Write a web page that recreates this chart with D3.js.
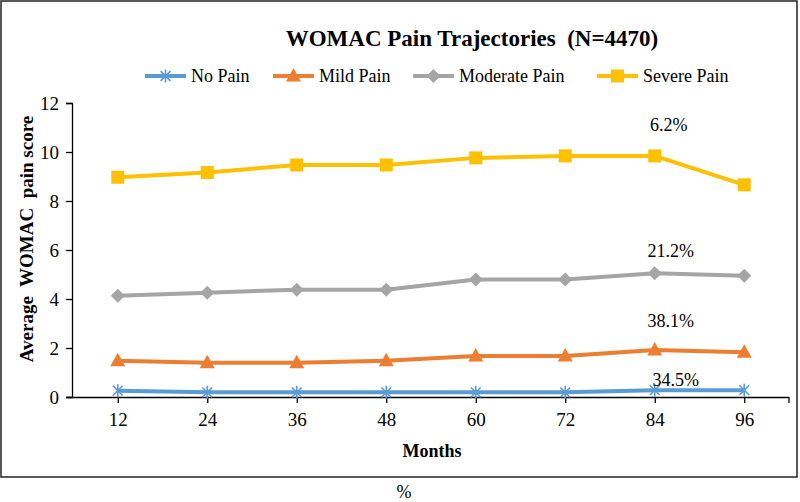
<!DOCTYPE html>
<html><head><meta charset="utf-8">
<script src="https://cdn.jsdelivr.net/npm/d3@7"></script>
<style>body{margin:0;background:#fff}svg{display:block}</style>
</head><body>
<svg id="c" width="800" height="502"></svg>
<script>
const months = ["12","24","36","48","60","72","84","96"];
const noPain = [0.26,0.19,0.19,0.19,0.19,0.19,0.28,0.28];
const mildPain = [1.48,1.40,1.40,1.48,1.67,1.67,1.92,1.83];
const moderatePain = [4.13,4.26,4.38,4.38,4.80,4.80,5.05,4.95];
const severePain = [8.97,9.16,9.47,9.47,9.76,9.84,9.84,8.66];
const seriesNames = ["No Pain","Mild Pain","Moderate Pain","Severe Pain"];
const seriesColors = ["#5B9BD5","#ED7D31","#A5A5A5","#FFC000"];
const seriesMarkers = ["star","triangle","diamond","square"];
const yTicks = [0,2,4,6,8,10,12];
const annotations = [
  {label:"6.2%", month:"84", value:10.85},
  {label:"21.2%", month:"84", value:5.72},
  {label:"38.1%", month:"84", value:2.85},
  {label:"34.5%", month:"84", value:0.45}
];
const annotDx = [14,16,16,21];

const FONT = "'Liberation Serif', Tinos, 'Times New Roman', 'DejaVu Serif', serif";
const seriesValues = [noPain, mildPain, moderatePain, severePain];
const svg = d3.select("#c");

svg.append("rect").attr("x",1).attr("y",1).attr("width",796).attr("height",476)
  .attr("fill","none").attr("stroke","#222").attr("stroke-width",1.5);

const x = d3.scalePoint().domain(months).range([73,789]).padding(0.5);
const y = d3.scaleLinear().domain([0,12]).range([397,103]);

const yAxis = svg.append("g").attr("transform","translate(72,0)")
  .call(d3.axisLeft(y).tickValues(yTicks).tickSize(6).tickPadding(7));
yAxis.attr("font-family",FONT).attr("font-size",19);
yAxis.select(".domain").attr("stroke","#000").attr("stroke-width",1.3);
yAxis.selectAll(".tick line").attr("stroke","#000").attr("stroke-width",1.3);
yAxis.selectAll("text").attr("dy","0.34em");

const xAxis = svg.append("g").attr("transform","translate(0,397)")
  .call(d3.axisBottom(x).tickSize(6).tickPadding(10).tickSizeOuter(0));
xAxis.attr("font-family",FONT).attr("font-size",19);
xAxis.select(".domain").attr("d","M67,0.5H789").attr("stroke","#000").attr("stroke-width",1.3);
xAxis.selectAll(".tick line").attr("stroke","#000").attr("stroke-width",1.3);
xAxis.append("line").attr("x1",789).attr("x2",789).attr("y1",0).attr("y2",6).attr("stroke","#000").attr("stroke-width",1.3);

function marker(g, type, color, cx, cy){
  if(type==="square"){
    g.append("rect").attr("x",cx-6.5).attr("y",cy-6.5).attr("width",13).attr("height",13).attr("fill",color);
  } else if(type==="triangle"){
    g.append("path").attr("d",`M${cx},${cy-8}L${cx+7.5},${cy+5.5}L${cx-7.5},${cy+5.5}Z`).attr("fill",color);
  } else if(type==="diamond"){
    g.append("path").attr("d",`M${cx},${cy-7}L${cx+7},${cy}L${cx},${cy+7}L${cx-7},${cy}Z`).attr("fill",color);
  } else {
    const r=6.5, d=r*0.75;
    g.append("path").attr("d",`M${cx},${cy-r}V${cy+r}M${cx-d},${cy-d}L${cx+d},${cy+d}M${cx-d},${cy+d}L${cx+d},${cy-d}`)
      .attr("stroke",color).attr("stroke-width",1.6).attr("fill","none");
  }
}

const line = d3.line().x((d,i)=>x(months[i])).y(d=>y(d));
seriesValues.forEach((vals,si)=>{
  const g = svg.append("g");
  g.append("path").datum(vals).attr("d",line).attr("fill","none")
    .attr("stroke",seriesColors[si]).attr("stroke-width",4).attr("stroke-linejoin","round");
  vals.forEach((v,i)=>marker(g, seriesMarkers[si], seriesColors[si], x(months[i]), y(v)));
});

function txt(xp, yp, s, size, bold, anchor){
  return svg.append("text").attr("x",xp).attr("y",yp).attr("text-anchor",anchor||"start")
    .attr("font-family",FONT).attr("font-size",size).attr("font-weight",bold?"bold":"normal")
    .attr("fill","#000").text(s);
}

annotations.forEach((a,i)=>{
  txt(x(a.month)+annotDx[i], y(a.value), a.label, 18, false, "middle");
});

txt(472,46,"WOMAC Pain Trajectories  (N=4470)",23,true,"middle").style("white-space","pre");

const legendX = [145,273,413,597];
seriesNames.forEach((n,i)=>{
  const g = svg.append("g");
  const lx = legendX[i];
  g.append("line").attr("x1",lx).attr("x2",lx+41).attr("y1",76).attr("y2",76)
    .attr("stroke",seriesColors[i]).attr("stroke-width",4);
  marker(g, seriesMarkers[i], seriesColors[i], lx+20.5, 76);
  txt(lx+46,82,n,18,false,"start");
});

svg.append("text").attr("transform","translate(33,239) rotate(-90)").attr("text-anchor","middle")
  .attr("font-family",FONT).attr("font-size",19).attr("font-weight","bold")
  .style("white-space","pre").text("Average  WOMAC  pain score");
txt(432,457,"Months",18,true,"middle");
txt(404,498,"%",18,false,"middle");
</script>
</body></html>
